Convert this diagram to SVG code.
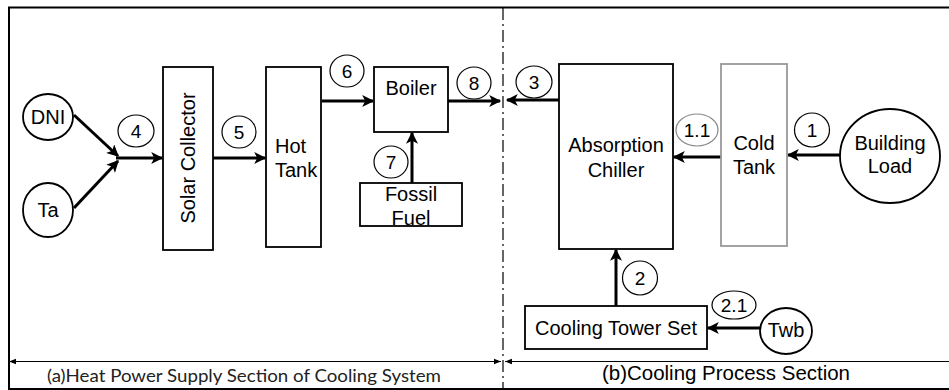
<svg xmlns="http://www.w3.org/2000/svg" width="949" height="390" viewBox="0 0 949 390">
<defs>
<marker id="ah" viewBox="0 0 10 10" refX="9" refY="5" markerWidth="4.3" markerHeight="4" orient="auto" markerUnits="strokeWidth">
<path d="M0,0 L10,5 L0,10 L2.5,5 Z" fill="#000"/>
</marker>
<marker id="dh" viewBox="0 0 10 10" refX="10" refY="5" markerWidth="7" markerHeight="7" orient="auto" markerUnits="userSpaceOnUse">
<path d="M0,1 L10,5 L0,9 Z" fill="#000"/>
</marker>
<style>
.box{fill:#fff;stroke:#000;stroke-width:1.8}
.gbox{fill:#fff;stroke:#999;stroke-width:1.8}
.arr{stroke:#000;stroke-width:3;fill:none;marker-end:url(#ah)}
.lbl{fill:#fff;stroke:#000;stroke-width:1.2}
.glbl{fill:#fff;stroke:#888;stroke-width:1.2}
.t{font-family:"Liberation Sans",Arial,sans-serif;font-size:20px;fill:#000}
.n{font-family:"Liberation Sans",Arial,sans-serif;font-size:19px;fill:#000;text-anchor:middle}
.c{text-anchor:middle}
.frame{fill:none;stroke:#000;stroke-width:2}
.dim{stroke:#000;stroke-width:1.2;fill:none;marker-end:url(#dh)}
</style>
</defs>
<rect x="0" y="0" width="949" height="390" fill="#fff"/>
<g id="frame">
<path class="frame" d="M960,7.5 H9 V389 H960"/>
<line x1="503" y1="8" x2="503" y2="389" stroke="#000" stroke-width="1.2" stroke-dasharray="12,4,2,4"/>
</g>
<g id="connectors">
<line class="arr" x1="74" y1="115" x2="118" y2="156"/>
<line class="arr" x1="74" y1="208" x2="118" y2="161"/>
<line class="arr" x1="116" y1="158" x2="162" y2="158"/>
<line class="arr" x1="213" y1="158" x2="265" y2="158"/>
<line class="arr" x1="322" y1="101" x2="373" y2="101"/>
<line class="arr" x1="448" y1="101" x2="500" y2="101"/>
<line class="arr" x1="412" y1="183" x2="412" y2="133"/>
<line class="arr" x1="559" y1="100" x2="507" y2="100"/>
<line class="arr" x1="722" y1="157" x2="674" y2="157"/>
<line class="arr" x1="840" y1="155" x2="788" y2="155"/>
<line class="arr" x1="616" y1="306" x2="616" y2="250"/>
<line class="arr" x1="761" y1="328" x2="708" y2="328"/>
<line class="dim" x1="260" y1="361.5" x2="9" y2="361.5"/>
<line class="dim" x1="260" y1="361.5" x2="501" y2="361.5"/>
<line class="dim" x1="700" y1="361.5" x2="505" y2="361.5"/>
<line x1="700" y1="361.5" x2="960" y2="361.5" stroke="#000" stroke-width="1.2"/>
</g>
<g id="dni"><ellipse class="box" cx="48" cy="117" rx="25" ry="23"/><text class="t c" x="48" y="124">DNI</text></g>
<g id="ta"><ellipse class="box" cx="48" cy="210" rx="25" ry="27"/><text class="t c" x="48" y="217">Ta</text></g>
<g id="lbl4"><ellipse class="lbl" cx="136" cy="131" rx="18" ry="16"/><text class="n" x="136" y="138">4</text></g>
<g id="solar"><rect class="box" x="163" y="67" width="50" height="183"/><text class="t c" transform="translate(195,158) rotate(-90)">Solar Collector</text></g>
<g id="lbl5"><ellipse class="lbl" cx="239" cy="132" rx="17" ry="16"/><text class="n" x="239" y="139">5</text></g>
<g id="hottank"><rect class="box" x="266" y="67" width="55" height="180"/><text class="t" x="275" y="153">Hot</text><text class="t" x="275" y="177">Tank</text></g>
<g id="lbl6"><ellipse class="lbl" cx="347" cy="71" rx="17" ry="16"/><text class="n" x="347" y="78">6</text></g>
<g id="boiler"><rect class="box" x="374" y="67" width="74" height="65"/><text class="t c" x="411" y="95">Boiler</text></g>
<g id="lbl8"><ellipse class="lbl" cx="474" cy="83" rx="17" ry="16"/><text class="n" x="474" y="90">8</text></g>
<g id="lbl7"><ellipse class="lbl" cx="391" cy="162" rx="17" ry="16"/><text class="n" x="391" y="169">7</text></g>
<g id="fossil"><rect class="box" x="360" y="183" width="102" height="43"/><text class="t c" x="411" y="201">Fossil</text><text class="t c" x="411" y="225">Fuel</text></g>
<g id="lbl3"><ellipse class="lbl" cx="534" cy="82" rx="18" ry="16"/><text class="n" x="534" y="89">3</text></g>
<g id="chiller"><rect class="box" x="559" y="64" width="114" height="185"/><text class="t c" x="616" y="152">Absorption</text><text class="t c" x="616" y="177">Chiller</text></g>
<g id="lbl11"><ellipse class="glbl" cx="697" cy="130" rx="21" ry="16"/><text class="n" x="697" y="137">1.1</text></g>
<g id="coldtank"><rect class="gbox" x="721" y="64" width="66" height="182"/><text class="t c" x="754" y="150">Cold</text><text class="t c" x="754" y="174">Tank</text></g>
<g id="lbl1"><ellipse class="lbl" cx="812" cy="130" rx="17.5" ry="17"/><text class="n" x="812" y="137">1</text></g>
<g id="building"><ellipse class="box" cx="890" cy="156" rx="50" ry="47"/><text class="t c" x="890" y="150">Building</text><text class="t c" x="890" y="173">Load</text></g>
<g id="lbl2"><ellipse class="lbl" cx="640" cy="278" rx="17.5" ry="17"/><text class="n" x="640" y="285">2</text></g>
<g id="tower"><rect class="box" x="525" y="306" width="182" height="43"/><text class="t c" x="616" y="335">Cooling Tower Set</text></g>
<g id="lbl21"><ellipse class="lbl" cx="734" cy="305" rx="22" ry="14"/><text class="n" x="734" y="312">2.1</text></g>
<g id="twb"><ellipse class="box" cx="786" cy="331" rx="26" ry="23"/><text class="t c" x="786" y="337">Twb</text></g>
<g id="sections">
<text x="47" y="382" textLength="394" lengthAdjust="spacingAndGlyphs" style="font-family:Lato,'Open Sans',sans-serif;font-size:18px;fill:#222">(a)Heat Power Supply Section of Cooling System</text>
<text class="t" x="602" y="380" textLength="248" lengthAdjust="spacingAndGlyphs">(b)Cooling Process Section</text>
</g>
</svg>
